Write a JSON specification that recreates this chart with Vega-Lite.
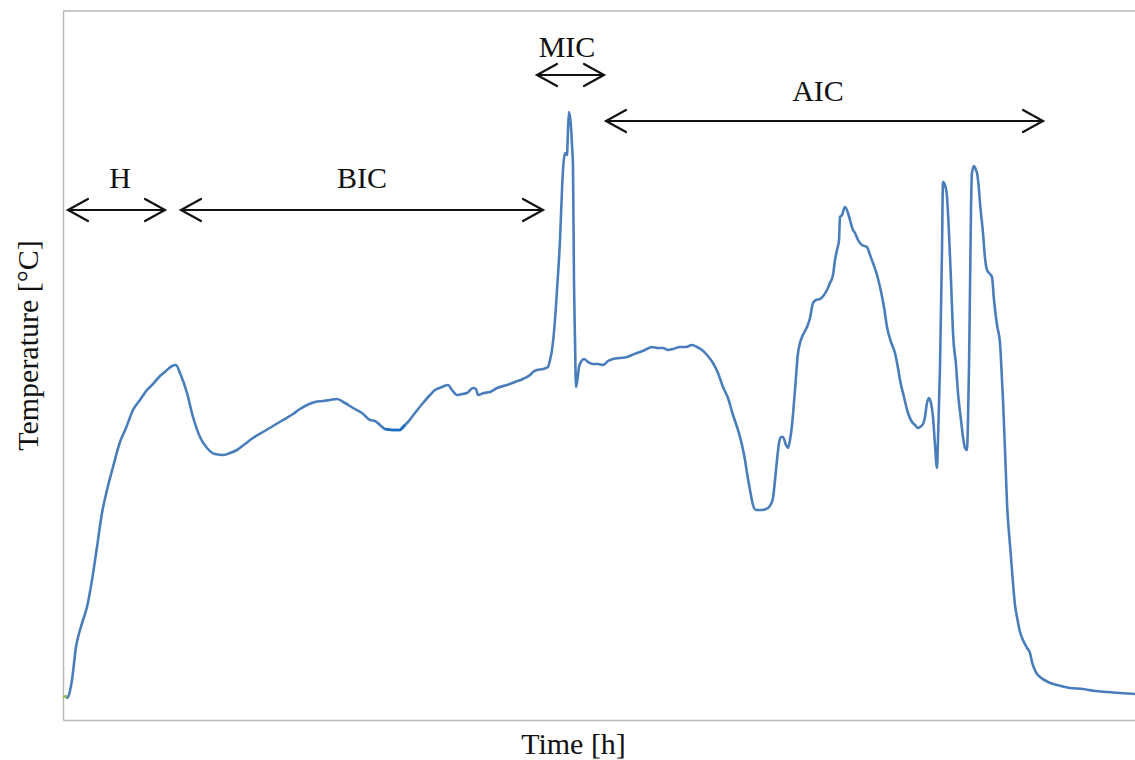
{
  "$schema": "https://vega.github.io/schema/vega-lite/v6.json",
  "width": 1072,
  "height": 709,
  "autosize": {"type": "none"},
  "padding": {"left": 63, "top": 11, "right": 0, "bottom": 40},
  "background": "white",
  "config": {
    "view": {"stroke": null},
    "axis": {"domainColor": "#b8b8b8", "domainWidth": 1.5, "ticks": false, "labels": false, "grid": false,
      "titleFont": "Liberation Serif", "titleFontSize": 30, "titleFontWeight": "normal", "titleColor": "#111111"}
  },
  "datasets": {
    "curve": [
      {"time": 3, "temp": 22}, {"time": 5, "temp": 23}, {"time": 9, "temp": 40}, {"time": 13, "temp": 73}, {"time": 17, "temp": 90},
      {"time": 21, "temp": 103}, {"time": 24, "temp": 113}, {"time": 29, "temp": 140}, {"time": 34, "temp": 173}, {"time": 39, "temp": 207},
      {"time": 44, "temp": 230}, {"time": 50, "temp": 253}, {"time": 57, "temp": 278}, {"time": 63, "temp": 292}, {"time": 70, "temp": 310},
      {"time": 77, "temp": 320}, {"time": 84, "temp": 330}, {"time": 90, "temp": 336}, {"time": 97, "temp": 344}, {"time": 103, "temp": 349},
      {"time": 109, "temp": 354}, {"time": 113, "temp": 355}, {"time": 117, "temp": 347}, {"time": 124, "temp": 327}, {"time": 130, "temp": 303},
      {"time": 137, "temp": 283}, {"time": 144, "temp": 272}, {"time": 152, "temp": 266}, {"time": 160, "temp": 265}, {"time": 167, "temp": 267},
      {"time": 174, "temp": 270}, {"time": 182, "temp": 276}, {"time": 190, "temp": 282}, {"time": 200, "temp": 288}, {"time": 210, "temp": 294},
      {"time": 220, "temp": 300}, {"time": 230, "temp": 306}, {"time": 237, "temp": 311}, {"time": 244, "temp": 315}, {"time": 252, "temp": 318},
      {"time": 260, "temp": 319}, {"time": 267, "temp": 320}, {"time": 274, "temp": 321}, {"time": 282, "temp": 317}, {"time": 290, "temp": 312},
      {"time": 299, "temp": 307}, {"time": 307, "temp": 300}, {"time": 312, "temp": 299}, {"time": 317, "temp": 295}, {"time": 322, "temp": 291},
      {"time": 329, "temp": 290}, {"time": 337, "temp": 290}, {"time": 342, "temp": 295}, {"time": 345, "temp": 298}, {"time": 352, "temp": 307},
      {"time": 360, "temp": 317}, {"time": 367, "temp": 325}, {"time": 372, "temp": 330}, {"time": 379, "temp": 333}, {"time": 385, "temp": 335},
      {"time": 389, "temp": 330}, {"time": 394, "temp": 325}, {"time": 399, "temp": 326}, {"time": 404, "temp": 327}, {"time": 410, "temp": 332},
      {"time": 413, "temp": 331}, {"time": 415, "temp": 325}, {"time": 421, "temp": 327}, {"time": 427, "temp": 328}, {"time": 434, "temp": 332},
      {"time": 444, "temp": 335}, {"time": 452, "temp": 338}, {"time": 460, "temp": 341}, {"time": 467, "temp": 345}, {"time": 470, "temp": 348},
      {"time": 474, "temp": 350}, {"time": 480, "temp": 351}, {"time": 485, "temp": 353}, {"time": 487, "temp": 360}, {"time": 489, "temp": 370},
      {"time": 492, "temp": 400}, {"time": 494, "temp": 430}, {"time": 497, "temp": 480}, {"time": 499, "temp": 530}, {"time": 500, "temp": 550},
      {"time": 502, "temp": 567}, {"time": 504, "temp": 565}, {"time": 505, "temp": 590}, {"time": 506, "temp": 608}, {"time": 508, "temp": 593},
      {"time": 509, "temp": 575}, {"time": 510, "temp": 553}, {"time": 511, "temp": 437}, {"time": 512, "temp": 380}, {"time": 513, "temp": 333},
      {"time": 515, "temp": 345}, {"time": 516, "temp": 353}, {"time": 518, "temp": 358}, {"time": 521, "temp": 361}, {"time": 525, "temp": 358},
      {"time": 530, "temp": 356}, {"time": 535, "temp": 356}, {"time": 540, "temp": 355}, {"time": 545, "temp": 359}, {"time": 550, "temp": 361},
      {"time": 557, "temp": 362}, {"time": 564, "temp": 363}, {"time": 569, "temp": 365}, {"time": 574, "temp": 367}, {"time": 582, "temp": 370},
      {"time": 589, "temp": 373}, {"time": 595, "temp": 372}, {"time": 600, "temp": 372}, {"time": 605, "temp": 370}, {"time": 610, "temp": 371},
      {"time": 617, "temp": 373}, {"time": 623, "temp": 373}, {"time": 629, "temp": 375}, {"time": 634, "temp": 373}, {"time": 639, "temp": 370},
      {"time": 644, "temp": 365}, {"time": 650, "temp": 357}, {"time": 655, "temp": 347}, {"time": 660, "temp": 333}, {"time": 665, "temp": 322},
      {"time": 670, "temp": 305}, {"time": 675, "temp": 290}, {"time": 679, "temp": 275}, {"time": 682, "temp": 260}, {"time": 684, "temp": 247},
      {"time": 687, "temp": 230}, {"time": 690, "temp": 215}, {"time": 693, "temp": 210}, {"time": 699, "temp": 210}, {"time": 705, "temp": 212},
      {"time": 708, "temp": 216}, {"time": 710, "temp": 222}, {"time": 712, "temp": 240}, {"time": 714, "temp": 260}, {"time": 716, "temp": 277},
      {"time": 718, "temp": 283}, {"time": 720, "temp": 283}, {"time": 723, "temp": 275}, {"time": 725, "temp": 272}, {"time": 727, "temp": 280},
      {"time": 729, "temp": 295}, {"time": 732, "temp": 330}, {"time": 735, "temp": 367}, {"time": 737, "temp": 377}, {"time": 739, "temp": 383},
      {"time": 742, "temp": 389}, {"time": 744, "temp": 393}, {"time": 747, "temp": 402}, {"time": 750, "temp": 417}, {"time": 753, "temp": 420},
      {"time": 757, "temp": 421}, {"time": 761, "temp": 425}, {"time": 764, "temp": 430}, {"time": 767, "temp": 437}, {"time": 770, "temp": 445},
      {"time": 772, "temp": 460}, {"time": 774, "temp": 470}, {"time": 776, "temp": 480}, {"time": 777, "temp": 503}, {"time": 779, "temp": 505},
      {"time": 782, "temp": 513}, {"time": 785, "temp": 507}, {"time": 787, "temp": 500}, {"time": 790, "temp": 490}, {"time": 792, "temp": 487},
      {"time": 795, "temp": 480}, {"time": 799, "temp": 475}, {"time": 804, "temp": 473}, {"time": 807, "temp": 465}, {"time": 810, "temp": 457},
      {"time": 814, "temp": 445}, {"time": 817, "temp": 433}, {"time": 821, "temp": 413}, {"time": 824, "temp": 393}, {"time": 828, "temp": 378},
      {"time": 832, "temp": 367}, {"time": 835, "temp": 352}, {"time": 837, "temp": 340}, {"time": 841, "temp": 323}, {"time": 845, "temp": 307},
      {"time": 849, "temp": 298}, {"time": 852, "temp": 295}, {"time": 855, "temp": 292}, {"time": 857, "temp": 293}, {"time": 860, "temp": 296},
      {"time": 862, "temp": 303}, {"time": 864, "temp": 317}, {"time": 866, "temp": 322}, {"time": 868, "temp": 317}, {"time": 870, "temp": 303},
      {"time": 872, "temp": 275}, {"time": 874, "temp": 252}, {"time": 875, "temp": 280}, {"time": 877, "temp": 353}, {"time": 879, "temp": 470},
      {"time": 880, "temp": 538}, {"time": 882, "temp": 535}, {"time": 884, "temp": 523}, {"time": 886, "temp": 487}, {"time": 888, "temp": 440},
      {"time": 890, "temp": 387}, {"time": 893, "temp": 355}, {"time": 895, "temp": 327}, {"time": 898, "temp": 300}, {"time": 900, "temp": 283},
      {"time": 902, "temp": 272}, {"time": 904, "temp": 270}, {"time": 905, "temp": 300}, {"time": 906, "temp": 353}, {"time": 907, "temp": 430},
      {"time": 908, "temp": 510}, {"time": 909, "temp": 547}, {"time": 911, "temp": 554}, {"time": 913, "temp": 550}, {"time": 914, "temp": 547},
      {"time": 916, "temp": 530}, {"time": 917, "temp": 517}, {"time": 920, "temp": 487}, {"time": 922, "temp": 462}, {"time": 924, "temp": 450},
      {"time": 927, "temp": 446}, {"time": 929, "temp": 443}, {"time": 931, "temp": 420}, {"time": 934, "temp": 395}, {"time": 937, "temp": 377},
      {"time": 939, "temp": 340}, {"time": 940, "temp": 320}, {"time": 942, "temp": 270}, {"time": 944, "temp": 217}, {"time": 947, "temp": 175},
      {"time": 950, "temp": 137}, {"time": 952, "temp": 115}, {"time": 954, "temp": 103}, {"time": 957, "temp": 88}, {"time": 960, "temp": 80},
      {"time": 964, "temp": 72}, {"time": 967, "temp": 67}, {"time": 969, "temp": 58}, {"time": 971, "temp": 52}, {"time": 974, "temp": 46},
      {"time": 977, "temp": 43}, {"time": 985, "temp": 38}, {"time": 994, "temp": 35}, {"time": 1007, "temp": 32}, {"time": 1020, "temp": 31},
      {"time": 1032, "temp": 29}, {"time": 1045, "temp": 28}, {"time": 1057, "temp": 27}, {"time": 1072, "temp": 26}
    ],
    "bits": [
      {"part": "start", "time": 0, "temp": 23}, {"part": "start", "time": 4, "temp": 24},
      {"part": "dip", "time": 322, "temp": 291}, {"part": "dip", "time": 329, "temp": 290}, {"part": "dip", "time": 337, "temp": 290}, {"part": "dip", "time": 342, "temp": 295}
    ],
    "frame": [
      {"time": 0, "time2": 1072, "temp": 709}
    ],
    "spans": [
      {"phase": "H", "time": 5, "time2": 102, "temp": 510},
      {"phase": "BIC", "time": 118, "time2": 480, "temp": 510},
      {"phase": "MIC", "time": 474, "time2": 541, "temp": 645},
      {"phase": "AIC", "time": 543, "time2": 980, "temp": 599}
    ],
    "labels": [
      {"phase": "H", "time": 57, "temp": 532},
      {"phase": "BIC", "time": 299, "temp": 532},
      {"phase": "MIC", "time": 504, "temp": 663},
      {"phase": "AIC", "time": 755, "temp": 619}
    ],
    "heads": [
      {"phase": "H", "time": 5, "temp": 510, "dir": "left"}, {"phase": "H", "time": 102, "temp": 510, "dir": "right"},
      {"phase": "BIC", "time": 118, "temp": 510, "dir": "left"}, {"phase": "BIC", "time": 480, "temp": 510, "dir": "right"},
      {"phase": "MIC", "time": 474, "temp": 645, "dir": "left"}, {"phase": "MIC", "time": 541, "temp": 645, "dir": "right"},
      {"phase": "AIC", "time": 543, "temp": 599, "dir": "left"}, {"phase": "AIC", "time": 980, "temp": 599, "dir": "right"}
    ]
  },
  "encoding": {
    "x": {"field": "time", "type": "quantitative", "scale": {"domain": [0, 1072], "nice": false, "zero": false},
      "axis": {"title": "Time [h]", "titleX": 510, "titleY": 33, "titleAlign": "center", "titleBaseline": "alphabetic", "titleAnchor": null}},
    "y": {"field": "temp", "type": "quantitative", "scale": {"domain": [0, 709], "nice": false, "zero": false},
      "axis": {"title": "Temperature [°C]", "titleX": -26, "titleY": 334, "titleAlign": "center", "titleBaseline": "alphabetic", "titleAngle": -90, "titleAnchor": null}}
  },
  "layer": [
    {
      "data": {"name": "frame"},
      "mark": {"type": "rule", "color": "#b8b8b8", "strokeWidth": 1.5},
      "encoding": {"x2": {"field": "time2"}}
    },
    {
      "data": {"name": "curve"},
      "mark": {"type": "line", "color": "#4a7ebb", "strokeWidth": 2.6, "strokeJoin": "round", "interpolate": "monotone"}
    },
    {
      "data": {"name": "bits"},
      "mark": {"type": "line", "strokeWidth": 2.6},
      "encoding": {
        "color": {"field": "part", "type": "nominal", "scale": {"domain": ["start", "dip"], "range": ["#8cc152", "#1a6fc0"]}, "legend": null}
      }
    },
    {
      "data": {"name": "spans"},
      "mark": {"type": "rule", "color": "#111111", "strokeWidth": 2.2},
      "encoding": {"x2": {"field": "time2"}}
    },
    {
      "data": {"name": "heads"},
      "mark": {"type": "point", "filled": false, "color": "#111111", "strokeWidth": 2.2, "size": 1600, "opacity": 1, "strokeCap": "round"},
      "encoding": {
        "shape": {"field": "dir", "type": "nominal", "scale": {"domain": ["left", "right"], "range": ["M1,-0.55L0,0L1,0.55", "M-1,-0.55L0,0L-1,0.55"]}, "legend": null}
      }
    },
    {
      "data": {"name": "labels"},
      "mark": {"type": "text", "font": "Liberation Serif", "fontSize": 30, "color": "#111111", "align": "center", "baseline": "alphabetic"},
      "encoding": {"text": {"field": "phase"}}
    }
  ]
}
